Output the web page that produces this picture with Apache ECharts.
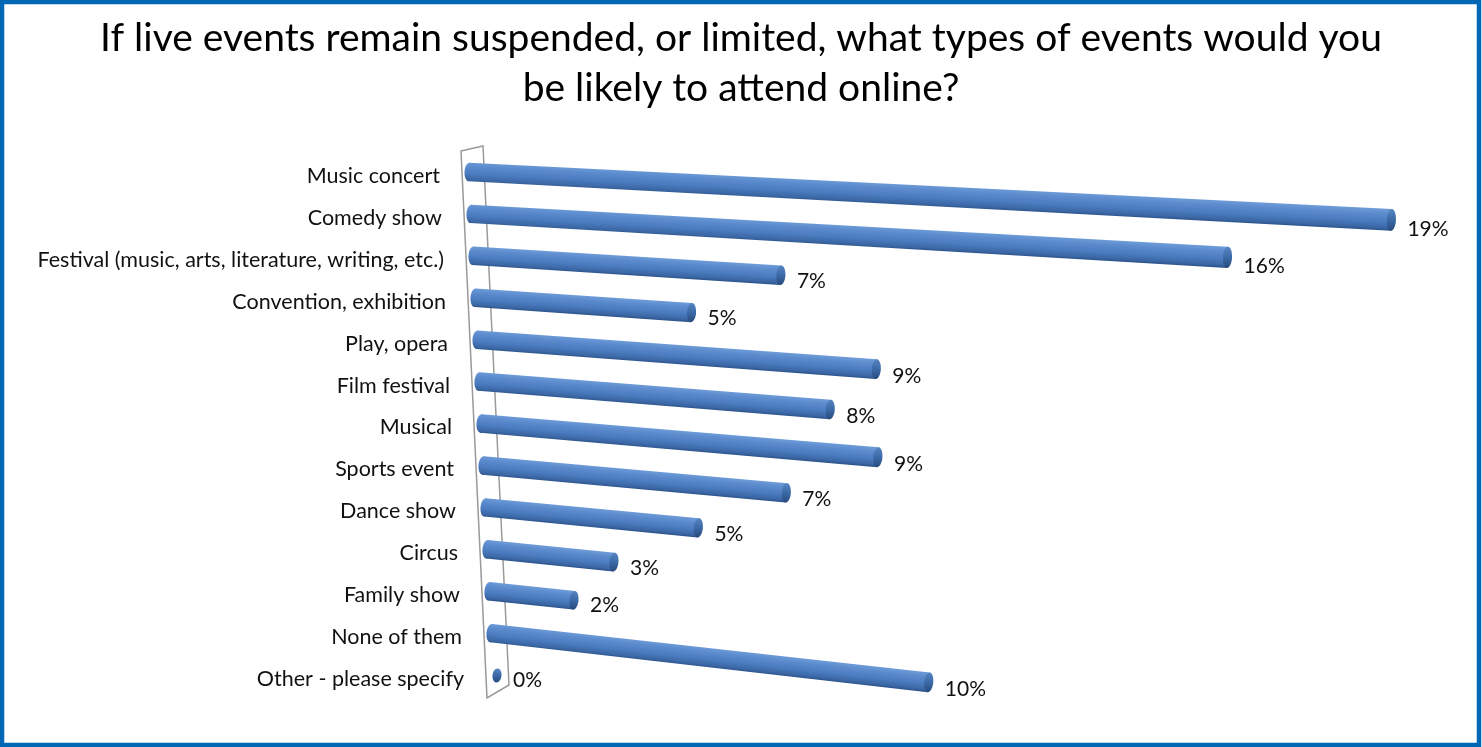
<!DOCTYPE html>
<html>
<head>
<meta charset="utf-8">
<script src="https://cdn.jsdelivr.net/npm/echarts@6/dist/echarts.min.js"></script>
<style>
html,body{margin:0;padding:0;background:#fff;}
#chart{width:1482px;height:747px;}
</style>
</head>
<body>
<div id="chart"></div>
<script>
const titleLines = [
  'If live events remain suspended, or limited, what types of events would you',
  'be likely to attend online?'
];
const categories = [
  'Music concert',
  'Comedy show',
  'Festival (music, arts, literature, writing, etc.)',
  'Convention, exhibition',
  'Play, opera',
  'Film festival',
  'Musical',
  'Sports event',
  'Dance show',
  'Circus',
  'Family show',
  'None of them',
  'Other - please specify'
];
const values = [19, 16, 7, 5, 9, 8, 9, 7, 5, 3, 2, 10, 0];

const FONT = 'Lato, "Open Sans", sans-serif';
const chart = echarts.init(document.getElementById('chart'));

const rich = {};
categories.forEach((c, i) => {
  rich['r' + i] = {
    fontFamily: FONT, fontSize: 21.5, color: '#111',
    padding: [0, 24 - 2 * i, 0, 0]
  };
});

const bodyGrad = () => new echarts.graphic.LinearGradient(0, 0, 0, 1, [
  {offset: 0, color: '#6F9CD9'},
  {offset: 0.25, color: '#5B8BCD'},
  {offset: 0.6, color: '#4A7BBF'},
  {offset: 0.88, color: '#3A66A3'},
  {offset: 1, color: '#2B5189'}
]);
const capGrad = () => new echarts.graphic.LinearGradient(0, 0, 0, 1, [
  {offset: 0, color: '#5685C2'},
  {offset: 0.5, color: '#3C6AA7'},
  {offset: 1, color: '#284A7C'}
]);

function renderItem(params, api) {
  const v = api.value(0);
  const i = api.value(1);
  const p0 = api.coord([0, i]);
  const p1 = api.coord([v, i]);
  const d = p1[0] - p0[0];
  // perspective stretch of the 3D plot
  const L = d * (1 + 0.000234 * d) * (1.01 - 0.003 * i);
  const slope = 0.052 + 0.0055 * i;
  const a = Math.atan(slope);
  const cosA = Math.cos(a);
  const x0 = p0[0] + 2 * i;
  const y0 = p0[1] - 4;
  const Lr = (L + 4) / cosA;
  const t0 = 18.5;
  const t1 = 18.5 + L * 0.0035;
  const children = [];
  if (v > 0) {
    children.push({
      type: 'ellipse',
      shape: {cx: 0, cy: 0, rx: 4.5, ry: t0 / 2},
      style: {fill: bodyGrad()}
    });
    children.push({
      type: 'polygon',
      shape: {points: [[0, -t0 / 2], [Lr, -t1 / 2], [Lr, t1 / 2], [0, t0 / 2]]},
      style: {fill: bodyGrad()}
    });
  }
  children.push({
    type: 'ellipse',
    shape: {cx: Lr, cy: 0, rx: 4.5, ry: v > 0 ? t1 / 2 : 7},
    style: {fill: capGrad()}
  });
  const cx = x0 + L + 4;
  const cy = y0 + (L + 4) * slope;
  return {
    type: 'group',
    children: [
      {type: 'group', x: x0, y: y0, rotation: -a, children: children},
      {
        type: 'text',
        x: cx + 4 + 12,
        y: cy + 5 + 0.005 * L,
        style: {
          text: v + '%', fill: '#111', fontFamily: FONT, fontSize: 21,
          align: 'left', verticalAlign: 'middle'
        }
      }
    ]
  };
}

chart.setOption({
  animation: false,
  backgroundColor: '#fff',
  title: {
    text: titleLines.join('\n'),
    left: 'center',
    top: 8,
    textStyle: {fontFamily: FONT, fontSize: 39, fontWeight: 'normal', color: '#000', lineHeight: 50}
  },
  graphic: [
    {
      type: 'rect', z: -10,
      shape: {x: 2, y: 2, width: 1477, height: 743},
      style: {fill: 'none', stroke: '#0067B4', lineWidth: 4.5}
    },
    {
      type: 'polygon', z: -5,
      shape: {points: [[461, 151], [483, 146], [509, 685], [487, 698]]},
      style: {fill: '#fff', stroke: '#9A9A9A', lineWidth: 1.5}
    }
  ],
  grid: {left: 469, width: 811, top: 155, height: 545},
  xAxis: {type: 'value', min: 0, max: 20, show: false},
  yAxis: {
    type: 'category',
    data: categories,
    inverse: true,
    axisLine: {show: false},
    axisTick: {show: false},
    splitLine: {show: false},
    axisLabel: {
      margin: 5,
      formatter: (val, idx) => '{r' + idx + '|' + val + '}',
      rich: rich
    }
  },
  series: [{
    type: 'custom',
    renderItem: renderItem,
    encode: {x: 0, y: 1},
    data: values.map((v, i) => [v, i]),
    z: 5
  }]
});
</script>
</body>
</html>
